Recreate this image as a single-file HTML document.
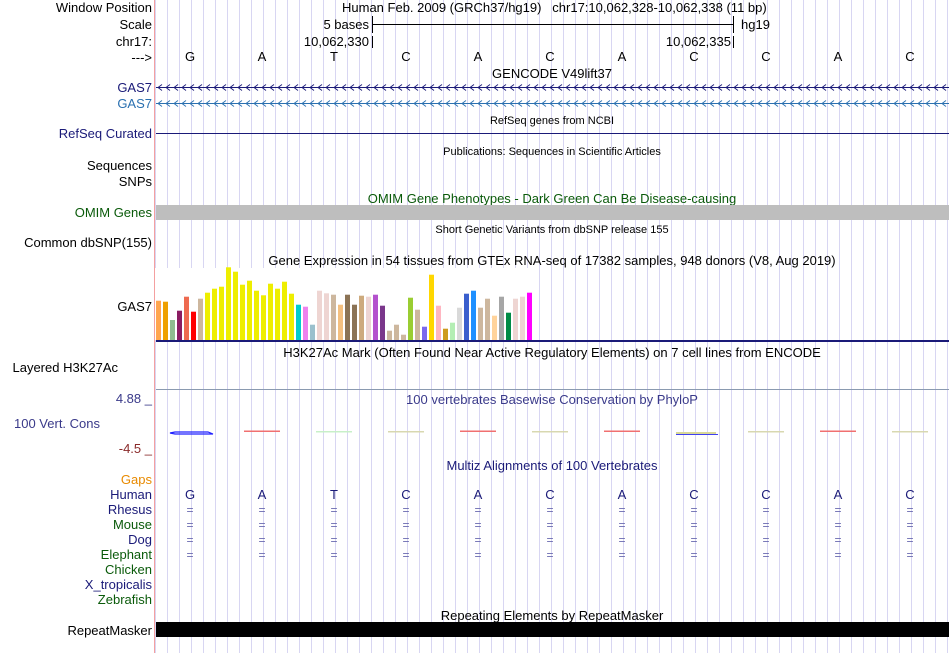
<!DOCTYPE html>
<html><head><meta charset="utf-8"><style>
html,body{margin:0;padding:0;background:#fff;}
svg{display:block;font-family:"Liberation Sans",sans-serif;}
</style></head><body>
<svg width="950" height="653" viewBox="0 0 950 653" xmlns="http://www.w3.org/2000/svg">
<defs>
<pattern id="grid" x="167" y="0" width="12" height="653" patternUnits="userSpaceOnUse">
<rect x="0" y="0" width="1" height="653" fill="#d8d6f2"/>
</pattern>
<pattern id="chev1" x="156" y="84" width="8" height="7" patternUnits="userSpaceOnUse">
<path d="M6,0.5 L2,3.5 L6,6.5" stroke="#1a1a78" stroke-width="0.9" fill="none"/>
</pattern>
<pattern id="chev2" x="156" y="100" width="8" height="7" patternUnits="userSpaceOnUse">
<path d="M6,0.5 L2,3.5 L6,6.5" stroke="#2a70b0" stroke-width="0.9" fill="none"/>
</pattern>
</defs>
<rect x="155" y="0" width="795" height="653" fill="url(#grid)"/>
<rect x="154" y="0" width="1" height="653" fill="#f4a0a0"/>

<g font-size="13" text-anchor="end" fill="#000">
<text x="152" y="12">Window Position</text>
<text x="152" y="29">Scale</text>
<text x="152" y="46">chr17:</text>
<text x="152" y="62">---&gt;</text>
<text x="152" y="92" fill="#1a1a78">GAS7</text>
<text x="152" y="108" fill="#2a70b0">GAS7</text>
<text x="152" y="138" fill="#1a1a78">RefSeq Curated</text>
<text x="152" y="170">Sequences</text>
<text x="152" y="186">SNPs</text>
<text x="152" y="217" fill="#0a5a0a">OMIM Genes</text>
<text x="152" y="247">Common dbSNP(155)</text>
<text x="152" y="311">GAS7</text>
<text x="118" y="372">Layered H3K27Ac</text>
<text x="152" y="403" fill="#3a3a8a">4.88 _</text>
<text x="100" y="428" fill="#3a3a8a">100 Vert. Cons</text>
<text x="152" y="453" fill="#8a2a2a">-4.5 _</text>
<text x="152" y="484" fill="#e88a00">Gaps</text>
<text x="152" y="499" fill="#1a1a78">Human</text>
<text x="152" y="514" fill="#1a1a78">Rhesus</text>
<text x="152" y="529" fill="#0a5a0a">Mouse</text>
<text x="152" y="544" fill="#1a1a78">Dog</text>
<text x="152" y="559" fill="#0a5a0a">Elephant</text>
<text x="152" y="574" fill="#0a5a0a">Chicken</text>
<text x="152" y="589" fill="#1a1a78">X_tropicalis</text>
<text x="152" y="604" fill="#0a5a0a">Zebrafish</text>
<text x="152" y="635">RepeatMasker</text>
</g>

<g font-size="13" fill="#000">
<text x="342" y="12" xml:space="preserve">Human Feb. 2009 (GRCh37/hg19)   chr17:10,062,328-10,062,338 (11 bp)</text>
<text x="369" y="29" text-anchor="end">5 bases</text>
<text x="369" y="46" text-anchor="end">10,062,330</text>
<text x="731" y="46" text-anchor="end">10,062,335</text>
<text x="741" y="29">hg19</text>
</g>
<g stroke="#000" stroke-width="1">
<line x1="372.5" y1="16" x2="372.5" y2="33"/>
<line x1="733.5" y1="16" x2="733.5" y2="33"/>
<line x1="372" y1="24.5" x2="733" y2="24.5"/>
<line x1="372.5" y1="36" x2="372.5" y2="48"/>
<line x1="733.5" y1="36" x2="733.5" y2="48"/>
</g>
<g font-size="13" text-anchor="middle" fill="#000">
<text x="190" y="61">G</text><text x="262" y="61">A</text><text x="334" y="61">T</text><text x="406" y="61">C</text><text x="478" y="61">A</text><text x="550" y="61">C</text><text x="622" y="61">A</text><text x="694" y="61">C</text><text x="766" y="61">C</text><text x="838" y="61">A</text><text x="910" y="61">C</text>
</g>
<text x="552" y="78" font-size="13" text-anchor="middle">GENCODE V49lift37</text>
<rect x="156" y="87" width="793" height="1" fill="#1a1a78"/>
<rect x="156" y="84" width="793" height="7" fill="url(#chev1)"/>
<rect x="156" y="103" width="793" height="1" fill="#2a70b0"/>
<rect x="156" y="100" width="793" height="7" fill="url(#chev2)"/>
<text x="552" y="124" font-size="11" text-anchor="middle">RefSeq genes from NCBI</text>
<rect x="156" y="133" width="793" height="1" fill="#1a1a78"/>
<text x="552" y="155" font-size="11" text-anchor="middle">Publications: Sequences in Scientific Articles</text>
<text x="552" y="203" font-size="13" text-anchor="middle" fill="#0a5a0a">OMIM Gene Phenotypes - Dark Green Can Be Disease-causing</text>
<rect x="156" y="205" width="793" height="15" fill="#bebebe"/>
<text x="552" y="233" font-size="11" text-anchor="middle">Short Genetic Variants from dbSNP release 155</text>
<text x="552" y="265" font-size="13" text-anchor="middle">Gene Expression in 54 tissues from GTEx RNA-seq of 17382 samples, 948 donors (V8, Aug 2019)</text>
<rect x="155" y="268" width="380" height="72" fill="#fff"/>
<g>
<rect x="156" y="300.7" width="5" height="39.3" fill="#ffa54f"/>
<rect x="163" y="301.7" width="5" height="38.3" fill="#eea000"/>
<rect x="170" y="320" width="5" height="20" fill="#8fbc8f"/>
<rect x="177" y="310.7" width="5" height="29.3" fill="#8b1c62"/>
<rect x="184" y="296.7" width="5" height="43.3" fill="#ee6a50"/>
<rect x="191" y="311.7" width="5" height="28.3" fill="#ff0000"/>
<rect x="198" y="298.7" width="5" height="41.3" fill="#cdb79e"/>
<rect x="205" y="292.7" width="5" height="47.3" fill="#eeee00"/>
<rect x="212" y="288.7" width="5" height="51.3" fill="#eeee00"/>
<rect x="219" y="286.7" width="5" height="53.3" fill="#eeee00"/>
<rect x="226" y="267.3" width="5" height="72.7" fill="#eeee00"/>
<rect x="233" y="271.7" width="5" height="68.3" fill="#eeee00"/>
<rect x="240" y="284.7" width="5" height="55.3" fill="#eeee00"/>
<rect x="247" y="280.7" width="5" height="59.3" fill="#eeee00"/>
<rect x="254" y="290.7" width="5" height="49.3" fill="#eeee00"/>
<rect x="261" y="295.3" width="5" height="44.7" fill="#eeee00"/>
<rect x="268" y="283.7" width="5" height="56.3" fill="#eeee00"/>
<rect x="275" y="288.7" width="5" height="51.3" fill="#eeee00"/>
<rect x="282" y="281.7" width="5" height="58.3" fill="#eeee00"/>
<rect x="289" y="293.7" width="5" height="46.3" fill="#eeee00"/>
<rect x="296" y="304.7" width="5" height="35.3" fill="#00cdcd"/>
<rect x="303" y="306.7" width="5" height="33.3" fill="#ee82ee"/>
<rect x="310" y="324.7" width="5" height="15.3" fill="#9ac0cd"/>
<rect x="317" y="290.7" width="5" height="49.3" fill="#eed5d2"/>
<rect x="324" y="293.3" width="5" height="46.7" fill="#eed5d2"/>
<rect x="331" y="294.7" width="5" height="45.3" fill="#cdb79e"/>
<rect x="338" y="304.7" width="5" height="35.3" fill="#f4c080"/>
<rect x="345" y="294.7" width="5" height="45.3" fill="#8b7355"/>
<rect x="352" y="304.7" width="5" height="35.3" fill="#8b7355"/>
<rect x="359" y="295.7" width="5" height="44.3" fill="#cdaa7d"/>
<rect x="366" y="296.7" width="5" height="43.3" fill="#eed5d2"/>
<rect x="373" y="294.7" width="5" height="45.3" fill="#b452cd"/>
<rect x="380" y="305.7" width="5" height="34.3" fill="#7a378b"/>
<rect x="387" y="330.7" width="5" height="9.3" fill="#cdb79e"/>
<rect x="394" y="324.7" width="5" height="15.3" fill="#cdb79e"/>
<rect x="401" y="334.7" width="5" height="5.3" fill="#cdb79e"/>
<rect x="408" y="297.7" width="5" height="42.3" fill="#9acd32"/>
<rect x="415" y="309.7" width="5" height="30.3" fill="#cdb79e"/>
<rect x="422" y="326.7" width="5" height="13.3" fill="#7b68ee"/>
<rect x="429" y="274.7" width="5" height="65.3" fill="#ffd700"/>
<rect x="436" y="305.7" width="5" height="34.3" fill="#ffb6c1"/>
<rect x="443" y="328.7" width="5" height="11.3" fill="#cd9b1d"/>
<rect x="450" y="322.7" width="5" height="17.3" fill="#b4eeb4"/>
<rect x="457" y="307.7" width="5" height="32.3" fill="#d9d9d9"/>
<rect x="464" y="293.7" width="5" height="46.3" fill="#3a5fcd"/>
<rect x="471" y="290.7" width="5" height="49.3" fill="#1e90ff"/>
<rect x="478" y="307.7" width="5" height="32.3" fill="#cdb79e"/>
<rect x="485" y="298.7" width="5" height="41.3" fill="#cdb79e"/>
<rect x="492" y="315.7" width="5" height="24.3" fill="#ffd39b"/>
<rect x="499" y="296.7" width="5" height="43.3" fill="#a6a6a6"/>
<rect x="506" y="312.7" width="5" height="27.3" fill="#008b45"/>
<rect x="513" y="298.7" width="5" height="41.3" fill="#eed5d2"/>
<rect x="520" y="296.7" width="5" height="43.3" fill="#eed5d2"/>
<rect x="527" y="292.7" width="5" height="47.3" fill="#ff00ff"/>
</g>
<rect x="156" y="340" width="793" height="2" fill="#1a1a78"/>
<text x="552" y="357" font-size="13" text-anchor="middle">H3K27Ac Mark (Often Found Near Active Regulatory Elements) on 7 cell lines from ENCODE</text>
<rect x="156" y="389" width="793" height="1" fill="#8a9ab0"/>
<text x="552" y="404" font-size="13" text-anchor="middle" fill="#3a3a8a">100 vertebrates Basewise Conservation by PhyloP</text>
<g>
<path d="M170,433 L175,432 L208,432 L213,434 L175,434 Z" fill="none" stroke="#2020ff" stroke-width="1.2"/>
<rect x="244" y="430.5" width="36" height="1.5" fill="#f07070"/>
<rect x="316" y="431" width="36" height="1.5" fill="#c8f0c8"/>
<rect x="388" y="431" width="36" height="1.5" fill="#d8d8b0"/>
<rect x="460" y="430.5" width="36" height="1.5" fill="#f07070"/>
<rect x="532" y="431" width="36" height="1.5" fill="#d8d8b0"/>
<rect x="604" y="430.5" width="36" height="1.5" fill="#f07070"/>
<rect x="676" y="432" width="40" height="2" fill="#d8d898"/>
<rect x="676" y="434" width="42" height="1" fill="#4040f0"/>
<rect x="748" y="431" width="36" height="1.5" fill="#d8d8b0"/>
<rect x="820" y="430.5" width="36" height="1.5" fill="#f07070"/>
<rect x="892" y="431" width="36" height="1.5" fill="#d8d8b0"/>
</g>
<text x="552" y="470" font-size="13" text-anchor="middle" fill="#1a1a78">Multiz Alignments of 100 Vertebrates</text>
<g font-size="13" text-anchor="middle" fill="#1a1a78">
<text x="190" y="499">G</text><text x="262" y="499">A</text><text x="334" y="499">T</text><text x="406" y="499">C</text><text x="478" y="499">A</text><text x="550" y="499">C</text><text x="622" y="499">A</text><text x="694" y="499">C</text><text x="766" y="499">C</text><text x="838" y="499">A</text><text x="910" y="499">C</text>
</g>
<g font-size="12" text-anchor="middle" fill="#6a6ab0">
<text x="190" y="514">=</text><text x="262" y="514">=</text><text x="334" y="514">=</text><text x="406" y="514">=</text><text x="478" y="514">=</text><text x="550" y="514">=</text><text x="622" y="514">=</text><text x="694" y="514">=</text><text x="766" y="514">=</text><text x="838" y="514">=</text><text x="910" y="514">=</text>
<text x="190" y="529">=</text><text x="262" y="529">=</text><text x="334" y="529">=</text><text x="406" y="529">=</text><text x="478" y="529">=</text><text x="550" y="529">=</text><text x="622" y="529">=</text><text x="694" y="529">=</text><text x="766" y="529">=</text><text x="838" y="529">=</text><text x="910" y="529">=</text>
<text x="190" y="544">=</text><text x="262" y="544">=</text><text x="334" y="544">=</text><text x="406" y="544">=</text><text x="478" y="544">=</text><text x="550" y="544">=</text><text x="622" y="544">=</text><text x="694" y="544">=</text><text x="766" y="544">=</text><text x="838" y="544">=</text><text x="910" y="544">=</text>
<text x="190" y="559">=</text><text x="262" y="559">=</text><text x="334" y="559">=</text><text x="406" y="559">=</text><text x="478" y="559">=</text><text x="550" y="559">=</text><text x="622" y="559">=</text><text x="694" y="559">=</text><text x="766" y="559">=</text><text x="838" y="559">=</text><text x="910" y="559">=</text>
</g>
<text x="552" y="620" font-size="13" text-anchor="middle">Repeating Elements by RepeatMasker</text>
<rect x="156" y="622" width="793" height="15" fill="#000"/>
</svg>
</body></html>
